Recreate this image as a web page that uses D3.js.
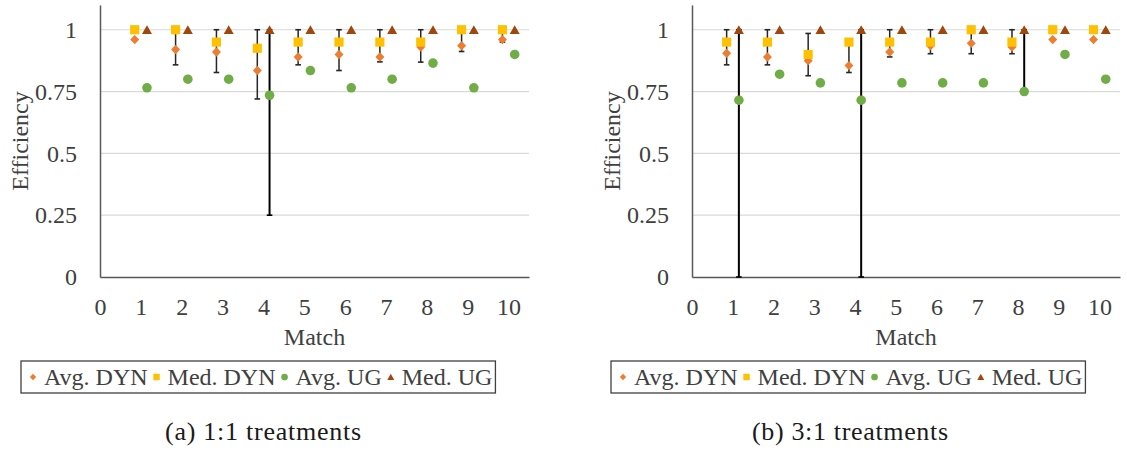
<!DOCTYPE html>
<html>
<head>
<meta charset="utf-8">
<script src="https://cdn.jsdelivr.net/npm/d3@7"></script>
<style>
    body { margin: 0; background: #fff; }
</style>
</head>
<body>
<script>
// axis ticks and labels
var matches = [1, 2, 3, 4, 5, 6, 7, 8, 9, 10];
var xTicks = [0, 1, 2, 3, 4, 5, 6, 7, 8, 9, 10];
var yTicks = [0, 0.25, 0.5, 0.75, 1];
var yTickLabels = ["0", "0.25", "0.5", "0.75", "1"];
var seriesNames = ["Avg. DYN", "Med. DYN", "Avg. UG", "Med. UG"];
var captions = ["(a) 1:1 treatments", "(b) 3:1 treatments"];

// (a) 1:1 treatments
var avgDynA = [0.96, 0.92, 0.91, 0.835, 0.89, 0.90, 0.89, 0.93, 0.935, 0.96];
var medDynA = [1, 1, 0.95, 0.925, 0.95, 0.95, 0.95, 0.95, 1, 1];
var avgUgA = [0.765, 0.80, 0.80, 0.735, 0.835, 0.765, 0.80, 0.865, 0.765, 0.90];
var medUgA = [1, 1, 1, 1, 1, 1, 1, 1, 1, 1];
var dynLoA = [null, 0.858, 0.827, 0.72, 0.858, 0.835, 0.87, 0.869, 0.912, 0.95];
var dynHiA = [null, 1, 1, 1, 1, 1, 1, 1, 1, 1];
var ugLoA = [null, null, null, 0.25, null, null, null, null, null, null];
var ugHiA = [null, null, null, 1, null, null, null, null, null, null];

// (b) 3:1 treatments
var avgDynB = [0.905, 0.89, 0.875, 0.855, 0.91, 0.935, 0.945, 0.93, 0.96, 0.96];
var medDynB = [0.95, 0.95, 0.90, 0.95, 0.95, 0.95, 1, 0.95, 1, 1];
var avgUgB = [0.715, 0.82, 0.785, 0.715, 0.785, 0.785, 0.785, 0.75, 0.90, 0.80];
var medUgB = [1, 1, 1, 1, 1, 1, 1, 1, 1, 1];
var dynLoB = [0.858, 0.858, 0.814, 0.827, 0.89, 0.903, 0.903, 0.903, null, null];
var dynHiB = [1, 1, 0.985, 0.95, 1, 1, 1, 1, null, null];
var ugLoB = [0, null, null, 0, null, null, null, 0.75, null, null];
var ugHiB = [1, null, null, 1, null, null, null, 1, null, null];

var colors = ["#ED7D31", "#FFC000", "#70AD47", "#9E480E"];
var textColor = "#404040";
var serif = "'Liberation Serif'";

var svg = d3.select("body").append("svg")
    .attr("width", 1127)
    .attr("height", 453)
    .style("font-family", serif);

var panels = [
    { left: 100, right: 529, legendX: 21, capX: 263, caption: captions[0],
      series: [avgDynA, medDynA, avgUgA, medUgA],
      dynLo: dynLoA, dynHi: dynHiA, ugLo: ugLoA, ugHi: ugHiA },
    { left: 692, right: 1120, legendX: 611, capX: 850, caption: captions[1],
      series: [avgDynB, medDynB, avgUgB, medUgB],
      dynLo: dynLoB, dynHi: dynHiB, ugLo: ugLoB, ugHi: ugHiB }
];

// marker shapes, index follows seriesNames
function markerPath(k, s) {
    if (k == 0) return "M0," + (-4.7 * s) + "L" + (4.5 * s) + ",0L0," + (4.7 * s) + "L" + (-4.5 * s) + ",0Z";
    if (k == 1) return d3.symbol().type(d3.symbolSquare).size(84 * s * s)();
    if (k == 2) return d3.symbol().type(d3.symbolCircle).size(72 * s * s)();
    return "M0," + (-4.6 * s) + "L" + (5 * s) + "," + (4.3 * s) + "L" + (-5 * s) + "," + (4.3 * s) + "Z";
}

panels.forEach(function (p) {
    var g = svg.append("g");

    var xScale = d3.scaleLinear().domain([0, 10.5]).range([p.left, p.right]);
    var yScale = d3.scaleLinear().domain([0, 1.1]).range([277, 5]);

    // gridlines
    g.selectAll(".grid")
        .data(yTicks.filter(function (d) { return d > 0; }))
        .enter().append("line")
        .attr("x1", p.left).attr("x2", p.right)
        .attr("y1", function (d) { return yScale(d); })
        .attr("y2", function (d) { return yScale(d); })
        .attr("stroke", "#d9d9d9")
        .attr("stroke-width", 1.2);

    // y axis
    var yAxis = g.append("g")
        .attr("transform", "translate(" + p.left + ",0)")
        .call(d3.axisLeft(yScale)
            .tickValues(yTicks)
            .tickSize(0).tickSizeOuter(0)
            .tickPadding(23)
            .tickFormat(function (d, i) { return yTickLabels[i]; }));

    // x axis
    var xAxis = g.append("g")
        .attr("transform", "translate(0," + yScale(0) + ")")
        .call(d3.axisBottom(xScale)
            .tickValues(xTicks)
            .tickSize(0).tickSizeOuter(0)
            .tickPadding(21)
            .tickFormat(d3.format("d")));

    [yAxis, xAxis].forEach(function (a) {
        a.attr("font-family", null).style("font-family", serif);
        a.select(".domain").attr("stroke", "#595959").attr("stroke-width", 1.5);
        a.selectAll("text")
            .style("font-family", serif)
            .attr("font-size", 24)
            .attr("fill", textColor);
    });

    // axis titles
    g.append("text")
        .attr("x", (p.left + p.right) / 2)
        .attr("y", 345)
        .attr("text-anchor", "middle")
        .style("font-family", serif)
        .attr("font-size", 24)
        .attr("fill", textColor)
        .text("Match");

    g.append("text")
        .attr("transform", "translate(" + (p.left - 72) + "," + ((yScale(0) + yScale(1.1)) / 2) + ") rotate(-90)")
        .attr("text-anchor", "middle")
        .style("font-family", serif)
        .attr("font-size", 24)
        .attr("fill", textColor)
        .text("Efficiency");

    // error bars
    function errorBars(lo, hi, off, color, width) {
        matches.forEach(function (m, i) {
            if (lo[i] == null) return;
            var x = xScale(m + off);
            g.append("line")
                .attr("x1", x).attr("x2", x)
                .attr("y1", yScale(hi[i])).attr("y2", yScale(lo[i]))
                .attr("stroke", color).attr("stroke-width", width);
            [lo[i], hi[i]].forEach(function (v) {
                g.append("line")
                    .attr("x1", x - 2.8).attr("x2", x + 2.8)
                    .attr("y1", yScale(v)).attr("y2", yScale(v))
                    .attr("stroke", color).attr("stroke-width", 1.6);
            });
        });
    }
    errorBars(p.dynLo, p.dynHi, -0.15, "#262626", 1.5);
    errorBars(p.ugLo, p.ugHi, 0.15, "#000000", 2);

    // markers
    p.series.forEach(function (vals, k) {
        var off = k < 2 ? -0.15 : 0.15;
        g.selectAll(".m" + k)
            .data(vals)
            .enter().append("path")
            .attr("d", markerPath(k, 1))
            .attr("transform", function (d, i) {
                return "translate(" + xScale(matches[i] + off) + "," + yScale(d) + ")";
            })
            .attr("fill", colors[k]);
    });

    // legend
    var leg = g.append("g");
    var box = leg.append("rect")
        .attr("x", p.legendX).attr("y", 361)
        .attr("height", 32)
        .attr("fill", "none")
        .attr("stroke", "#404040")
        .attr("stroke-width", 1.3);
    var cx = p.legendX + 12;
    seriesNames.forEach(function (name, k) {
        leg.append("path")
            .attr("d", markerPath(k, 0.7))
            .attr("transform", "translate(" + cx + ",377)")
            .attr("fill", colors[k]);
        var t = leg.append("text")
            .attr("x", cx + 11)
            .attr("y", 385)
            .style("font-family", serif)
            .attr("font-size", 24)
            .attr("fill", textColor)
            .text(name);
        cx = cx + 11 + t.node().getComputedTextLength() + 9;
    });
    box.attr("width", cx - 9 + 3 - p.legendX);

    // caption
    g.append("text")
        .attr("x", p.capX)
        .attr("y", 440)
        .attr("text-anchor", "middle")
        .style("font-family", serif)
        .attr("font-size", 26)
        .attr("fill", "#1a1a1a")
        .attr("textLength", 196)
        .attr("lengthAdjust", "spacing")
        .text(p.caption);
});
</script>
</body>
</html>
